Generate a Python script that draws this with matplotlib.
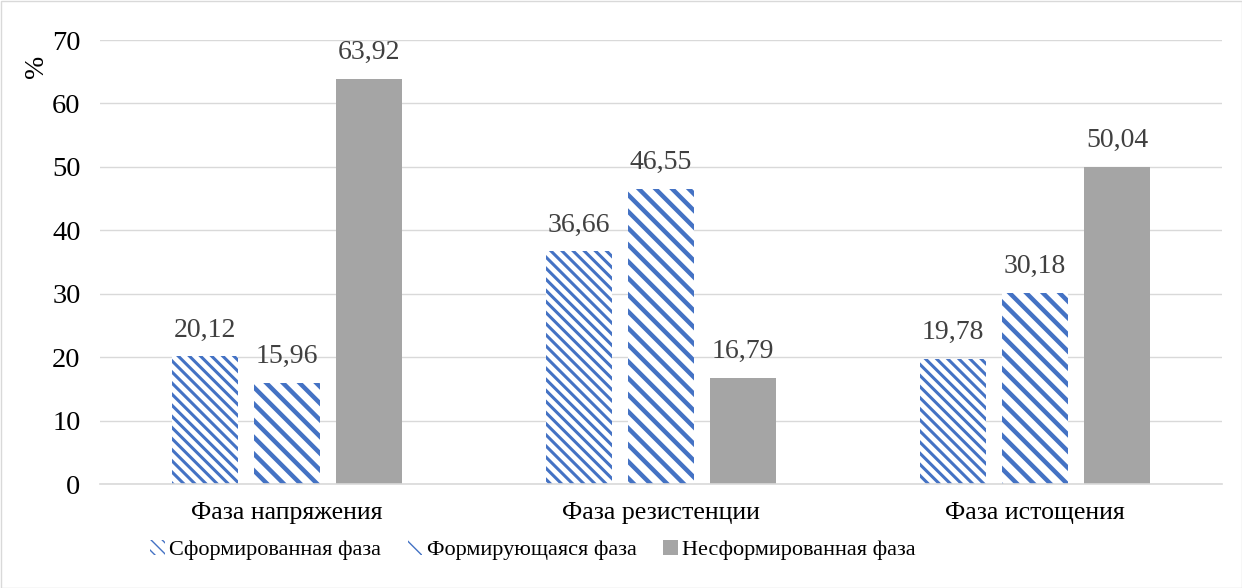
import matplotlib
matplotlib.use("Agg")
import matplotlib.pyplot as plt
import numpy as np
from matplotlib.patches import Rectangle

categories = ["Фаза напряжения", "Фаза резистенции", "Фаза истощения"]
series_names = ["Сформированная фаза", "Формирующаяся фаза", "Несформированная фаза"]
formed = [20.12, 36.66, 19.78]
forming = [15.96, 46.55, 30.18]
unformed = [63.92, 16.79, 50.04]
yticks = [0, 10, 20, 30, 40, 50, 60, 70]

plt.rcParams['font.family'] = ['Liberation Serif', 'DejaVu Serif']
TXT = '#404040'
BLUE = '#4472C4'
GRAY = '#A5A5A5'

fig = plt.figure(figsize=(12.42, 5.88), dpi=100)
ax = fig.add_axes([100/1242, 1-484/588, 1122/1242, 444/588])

x = np.arange(len(categories))
w = 0.176
off = 0.22

def hatched_bars(xpos, vals, hatch, hlw):
    with plt.rc_context({'hatch.linewidth': hlw}):
        bars = ax.bar(xpos, vals, w, facecolor='white', edgecolor=BLUE,
                      hatch=hatch, linewidth=0, zorder=2)
    for b in bars:
        if hasattr(b, 'set_hatch_linewidth'):
            b.set_hatch_linewidth(hlw)
    return bars

b1 = hatched_bars(x - off, formed, '\\\\\\', 2.2)
b2 = hatched_bars(x, forming, '\\\\', 3.2)
b3 = ax.bar(x + off, unformed, w, color=GRAY, linewidth=0, zorder=2)

for bars, vals in [(b1, formed), (b2, forming), (b3, unformed)]:
    for b, v in zip(bars, vals):
        ax.annotate(f"{v:.2f}".replace('.', ','),
                    (b.get_x() + b.get_width()/2, v),
                    xytext=(0, 10), textcoords='offset points',
                    ha='center', va='bottom', fontsize=20, color=TXT)

ax.set_xlim(-0.5, 2.5)
ax.set_ylim(0, 70)
ax.set_yticks(yticks)
ax.set_yticklabels([str(t) for t in yticks], fontsize=20.5, color='black')
ax.set_xticks(x)
ax.set_xticklabels(categories, fontsize=18.5, color='black')
ax.tick_params(axis='both', length=0)
ax.tick_params(axis='y', pad=14)
ax.tick_params(axis='x', pad=13)
ax.grid(axis='y', color='#D9D9D9', linewidth=1, zorder=0)
ax.set_axisbelow(True)
for s in ['top', 'right', 'left']:
    ax.spines[s].set_visible(False)
ax.spines['bottom'].set_color('#D9D9D9')
ax.spines['bottom'].set_linewidth(1.2)

fig.text(36/1242, 1-66/588, '%', rotation=90, ha='center', va='center', fontsize=20, color='black')

fig.legend([b1[0], b2[0], b3[0]], series_names, loc='center',
           bbox_to_anchor=(533/1242, 1-550/588), ncol=3, frameon=False,
           fontsize=16, handlelength=0.65, handleheight=0.65,
           handletextpad=0.2, columnspacing=1.2, borderpad=0)

fig.add_artist(Rectangle((0.5/1242, 0.5/588), 1-1/1242, 1-1/588, transform=fig.transFigure,
                         fill=False, edgecolor='#D9D9D9', linewidth=1))

fig.savefig('out.png', dpi=100)
